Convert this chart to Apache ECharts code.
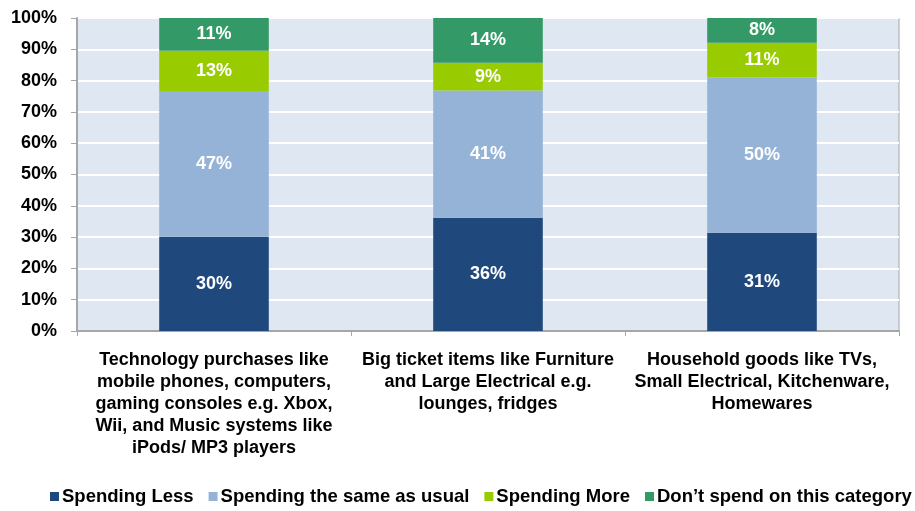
<!DOCTYPE html>
<html>
<head>
<meta charset="utf-8">
<script src="https://cdn.jsdelivr.net/npm/echarts@6/dist/echarts.min.js"></script>
<style>
  html, body { margin: 0; padding: 0; background: #fff; }
  #chart { width: 915px; height: 511px; }
</style>
</head>
<body>
<div id="chart"></div>
<script>
const categories = [
  'Technology purchases like\nmobile phones, computers,\ngaming consoles e.g. Xbox,\nWii, and Music systems like\niPods/ MP3 players',
  'Big ticket items like Furniture\nand Large Electrical e.g.\nlounges, fridges',
  'Household goods like TVs,\nSmall Electrical, Kitchenware,\nHomewares'
]
const seriesNames = ['Spending Less', 'Spending the same as usual', 'Spending More', 'Don\u2019t spend on this category']
const spendingLess = [30.1, 36.2, 31.4]
const spendingSame = [46.6, 40.6, 49.6]
const spendingMore = [12.8, 8.9, 11.1]
const dontSpend = [10.5, 14.3, 7.9]
const colors = ['#1f497d', '#95b3d7', '#99cc00', '#339966']

const font = '"Liberation Sans", Arial, sans-serif'
const dataSets = [spendingLess, spendingSame, spendingMore, dontSpend]

let myChart = echarts.init(document.getElementById('chart'))
myChart.setOption({
  animation: false,
  color: colors,
  grid: {
    left: 77,
    right: 16,
    top: 18,
    bottom: 180,
    show: true,
    backgroundColor: '#dfe7f2',
    borderColor: '#a6a6a6',
    borderWidth: 1,
  },
  legend: {
    bottom: 0,
    left: 45,
    width: 870,
    icon: 'rect',
    itemWidth: 9,
    itemHeight: 9,
    itemGap: 15,
    textStyle: {
      fontFamily: font,
      fontWeight: 'bold',
      fontSize: 18.5,
      color: '#000',
      padding: [0, 0, 0, -2],
    },
    data: seriesNames,
  },
  xAxis: {
    type: 'category',
    data: categories,
    axisLine: { lineStyle: { color: '#a6a6a6', width: 2 } },
    axisTick: { show: true, length: 5, lineStyle: { color: '#a6a6a6' } },
    axisLabel: {
      margin: 18,
      interval: 0,
      fontFamily: font,
      fontWeight: 'bold',
      fontSize: 18,
      lineHeight: 22,
      color: '#000',
    },
  },
  yAxis: {
    type: 'value',
    min: 0,
    max: 100,
    interval: 10,
    axisLine: { show: true, lineStyle: { color: '#a6a6a6', width: 2 } },
    axisTick: { show: true, length: 6, lineStyle: { color: '#a6a6a6' } },
    splitLine: { lineStyle: { color: '#ffffff', width: 2 } },
    axisLabel: {
      margin: 20,
      fontFamily: font,
      fontWeight: 'bold',
      fontSize: 18,
      color: '#000',
      formatter: '{value}%',
    },
  },
  series: dataSets.map((arr, i) => ({
    name: seriesNames[i],
    type: 'bar',
    stack: 'total',
    barWidth: '40%',
    data: arr,
    label: {
      show: true,
      position: 'inside',
      color: '#fff',
      fontFamily: font,
      fontWeight: 'bold',
      fontSize: 18,
      formatter: (p) => Math.round(p.value) + '%',
    },
  })),
})
</script>
</body>
</html>
